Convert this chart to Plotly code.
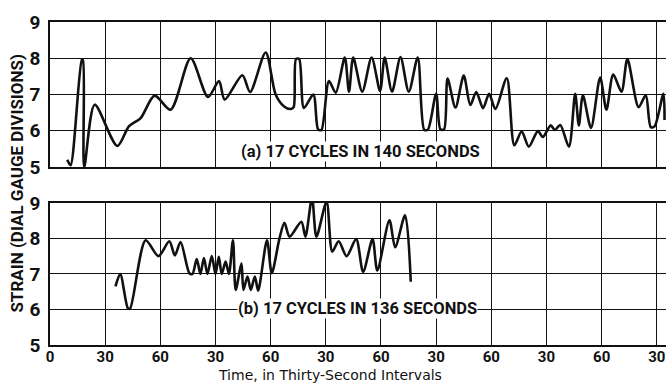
import plotly.graph_objects as go

# ---- data ----
time_a = [9.4, 11.2, 17.3, 17.9, 18.6, 24.3, 36.6, 43, 49.3, 56.9, 65.6, 76.5, 85.9, 91.9, 95,
          104.6, 108.8, 117.3, 122.7, 127.3, 130.9, 132.5, 133.8, 135.5, 138.1, 143.2, 145.8, 147.6,
          151.7, 155.4, 160.3, 162.6, 164.9, 169.8, 174.9, 179.5, 182, 186, 190.6, 195.1, 200,
          203.5, 205.5, 210, 212.3, 214.3, 216.2, 220.5, 225, 228.6, 231.8, 235.5, 238.8, 242.2,
          248.4, 252.5, 256.5, 260.4, 265.3, 268, 272.3, 274.6, 277.5, 282.2, 285.6, 287.6, 289.8,
          294.2, 299.2, 302.6, 306.3, 310.8, 314, 320.1, 324, 326.7, 328.8, 333.6, 334.2]
strain_a = [5.2, 5.05, 7.95, 7.95, 5.0, 6.72, 5.58, 6.13, 6.35, 6.97, 6.58, 8.0, 6.93, 7.37, 6.86,
            7.53, 7.07, 8.16, 7.0, 6.67, 6.6, 6.65, 7.98, 7.98, 6.63, 7.0, 6.04, 6.02,
            7.37, 7.05, 8.02, 7.08, 8.02, 7.08, 8.02, 7.1, 8.02, 7.08, 8.03, 7.08, 8.02,
            6.03, 6.03, 7.02, 6.04, 6.04, 7.44, 6.64, 7.52, 6.71, 7.07, 6.62, 7.02, 6.6,
            7.45, 5.6, 5.98, 5.56, 5.99, 5.83, 6.15, 6.02, 6.16, 5.56, 7.02, 6.15, 6.98,
            6.08, 7.47, 6.58, 7.55, 7.08, 7.98, 6.65, 6.98, 6.1, 6.12, 7.02, 6.3]

time_b = [35.6, 38.2, 42.4, 43.6, 52, 59, 64.9, 67.9, 71, 75.8, 77.5, 79.8, 81.8, 83.7, 85.6,
          88, 90, 91.8, 93.4, 95.5, 97.3, 99.5, 101, 104.1, 105.2, 107.4, 109.2, 111.4, 113.2,
          118, 120.6, 124.8, 127.5, 130.3, 136.7, 138.9, 142.5, 144.9, 150.4, 153.5, 157,
          161.3, 166.5, 170.3, 175.4, 178, 184.6, 187.7, 193.1, 196.2]
strain_b = [6.65, 7.0, 6.03, 6.03, 7.95, 7.5, 7.92, 7.52, 7.9, 7.02, 7.0, 7.42, 7.0, 7.45, 7.0,
            7.5, 7.0, 7.48, 7.0, 7.35, 7.0, 7.95, 6.55, 7.3, 6.55, 6.93, 6.55, 6.93, 6.53,
            7.95, 7.02, 8.0, 8.44, 8.05, 8.47, 8.05, 9.15, 8.05, 9.03, 7.63, 7.92,
            7.5, 7.98, 7.06, 7.98, 7.1, 8.51, 7.75, 8.65, 6.78]

time_ticks = [0, 30, 60, 90, 120, 150, 180, 210, 240, 270, 300, 330]
time_labels = ["0", "30", "60", "30", "60", "30", "60", "30", "60", "30", "60", "30"]
strain_ticks = [5, 6, 7, 8, 9]
label_a = "(a) 17 CYCLES IN 140 SECONDS"
label_b = "(b) 17 CYCLES IN 136 SECONDS"
y_title = "STRAIN (DIAL GAUGE DIVISIONS)"
x_title = "Time, in Thirty-Second Intervals"

COND = "Roboto, DejaVu Sans, sans-serif"
INK = "#111111"

fig = go.Figure()
line_style = dict(color=INK, width=2.6, shape="spline", smoothing=0.8)
fig.add_trace(go.Scatter(x=time_a, y=strain_a, mode="lines", line=line_style,
                         xaxis="x", yaxis="y", showlegend=False, hoverinfo="skip"))
fig.add_trace(go.Scatter(x=time_b, y=strain_b, mode="lines", line=line_style,
                         xaxis="x2", yaxis="y2", showlegend=False, hoverinfo="skip"))

xcommon = dict(range=[0, 335], tickvals=time_ticks, showgrid=True, gridcolor=INK, gridwidth=1.1,
               showline=True, linecolor=INK, linewidth=1.6, mirror=True, zeroline=False,
               ticks="", fixedrange=True, automargin=False)
ycommon = dict(range=[5, 9], tickvals=strain_ticks, showgrid=True, gridcolor=INK, gridwidth=1.1,
               showline=True, linecolor=INK, linewidth=1.6, zeroline=False, ticks="",
               ticklabelstandoff=4, automargin=False, fixedrange=True,
               tickfont=dict(family=COND, size=19, color=INK, weight="bold"))

fig.update_layout(
    width=672, height=385,
    margin=dict(l=50, r=6, t=22, b=40),
    paper_bgcolor="white", plot_bgcolor="white",
    xaxis=dict(xcommon, anchor="y", domain=[0, 1], showticklabels=False),
    yaxis=dict(ycommon, anchor="x", domain=[0.551, 1]),
    xaxis2=dict(xcommon, anchor="y2", domain=[0, 1], ticktext=time_labels,
                ticklabelstandoff=-3,
                tickfont=dict(family=COND, size=15, color=INK, weight="bold")),
    yaxis2=dict(ycommon, anchor="x2", domain=[0, 0.44]),
    annotations=[
        dict(text=label_a, xref="x", yref="y", x=169, y=5.42, showarrow=False,
             font=dict(family=COND, size=16.5, color=INK, weight="bold"), bgcolor="white",
             borderpad=0),
        dict(text=label_b, xref="x2", yref="y2", x=167, y=6.03, showarrow=False,
             font=dict(family=COND, size=16.5, color=INK, weight="bold"), bgcolor="white",
             borderpad=0),
        dict(text=y_title, xref="paper", yref="paper", x=-0.055, y=0.5, textangle=-90,
             showarrow=False, xanchor="center", yanchor="middle",
             font=dict(family=COND, size=17, color=INK, weight="bold")),
        dict(text=x_title, xref="paper", yref="paper", x=0.4545, y=-40 / 323,
             showarrow=False, xanchor="center", yanchor="bottom",
             font=dict(family="DejaVu Sans", size=14, color=INK)),
    ],
)

fig.write_html("out.html", config={"displayModeBar": False},
               post_script="document.body.style.margin='0px';")
